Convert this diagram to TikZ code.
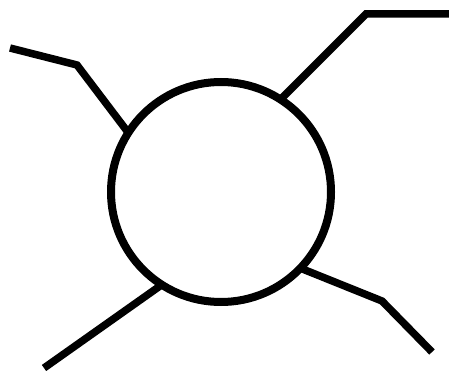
\documentclass[tikz,border=0pt]{standalone}
\begin{document}
\begin{tikzpicture}[x=1pt,y=-1pt,
  wire/.style={line width=7.5pt, line join=miter},
  ring/.style={circle, draw, line width=8pt, minimum size=220pt, inner sep=0pt}]
\useasboundingbox (0,0) rectangle (449,371);
\node[ring] (c) at (221,192) {};
\coordinate (a0) at (10,48);
\coordinate (a1) at (77,65);
\coordinate (a2) at (127,131);
\coordinate (b0) at (449,14);
\coordinate (b1) at (366,14);
\coordinate (b2) at (280,100);
\coordinate (d0) at (44,368);
\coordinate (d1) at (160,286);
\coordinate (e0) at (300,268);
\coordinate (e1) at (382,301);
\coordinate (e2) at (432,352);
\draw[wire] (a0) -- (a1) -- (a2);
\draw[wire] (b0) -- (b1) -- (b2);
\draw[wire] (d0) -- (d1);
\draw[wire] (e0) -- (e1) -- (e2);
\end{tikzpicture}
\end{document}
